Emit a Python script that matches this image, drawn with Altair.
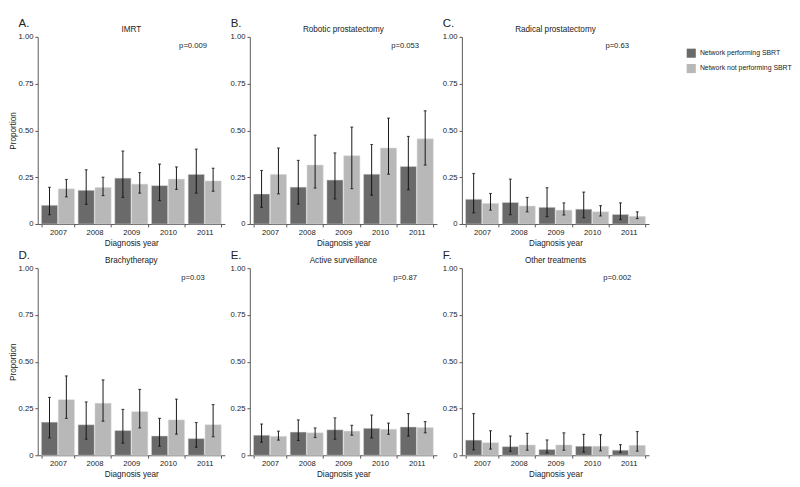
import altair as alt
import pandas as pd

years = ["2007", "2008", "2009", "2010", "2011"]
groups = ["Network performing SBRT", "Network not performing SBRT"]

panels = ["IMRT", "Robotic prostatectomy", "Radical prostatectomy",
          "Brachytherapy", "Active surveillance", "Other treatments"]
letters = ["A.", "B.", "C.", "D.", "E.", "F."]
p_values = ["p=0.009", "p=0.053", "p=0.63", "p=0.03", "p=0.87", "p=0.002"]

# IMRT
imrt_perf = [0.100, 0.180, 0.245, 0.205, 0.265]
imrt_perf_lo = [0.050, 0.105, 0.142, 0.125, 0.165]
imrt_perf_hi = [0.196, 0.290, 0.390, 0.320, 0.400]
imrt_not = [0.188, 0.195, 0.213, 0.240, 0.230]
imrt_not_lo = [0.145, 0.152, 0.165, 0.185, 0.175]
imrt_not_hi = [0.238, 0.250, 0.275, 0.305, 0.298]

# Robotic prostatectomy
rob_perf = [0.160, 0.197, 0.235, 0.266, 0.307]
rob_perf_lo = [0.089, 0.106, 0.134, 0.154, 0.183]
rob_perf_hi = [0.286, 0.340, 0.380, 0.425, 0.468]
rob_not = [0.265, 0.315, 0.365, 0.406, 0.455]
rob_not_lo = [0.161, 0.192, 0.189, 0.266, 0.315]
rob_not_hi = [0.406, 0.475, 0.518, 0.566, 0.605]

# Radical prostatectomy
rad_perf = [0.132, 0.115, 0.089, 0.079, 0.051]
rad_perf_lo = [0.060, 0.050, 0.039, 0.034, 0.024]
rad_perf_hi = [0.270, 0.240, 0.194, 0.170, 0.113]
rad_not = [0.110, 0.096, 0.074, 0.065, 0.041]
rad_not_lo = [0.074, 0.065, 0.048, 0.043, 0.029]
rad_not_hi = [0.163, 0.142, 0.113, 0.098, 0.065]

# Brachytherapy
bra_perf = [0.177, 0.163, 0.132, 0.103, 0.089]
bra_perf_lo = [0.093, 0.086, 0.065, 0.048, 0.043]
bra_perf_hi = [0.309, 0.285, 0.245, 0.197, 0.175]
bra_not = [0.297, 0.278, 0.233, 0.189, 0.163]
bra_not_lo = [0.197, 0.182, 0.146, 0.113, 0.099]
bra_not_hi = [0.424, 0.403, 0.352, 0.300, 0.271]

# Active surveillance
act_perf = [0.107, 0.124, 0.136, 0.144, 0.151]
act_perf_lo = [0.070, 0.079, 0.086, 0.093, 0.103]
act_perf_hi = [0.167, 0.189, 0.200, 0.215, 0.223]
act_not = [0.101, 0.120, 0.129, 0.139, 0.148]
act_not_lo = [0.081, 0.095, 0.107, 0.112, 0.120]
act_not_hi = [0.129, 0.146, 0.160, 0.172, 0.180]

# Other treatments
oth_perf = [0.081, 0.046, 0.031, 0.048, 0.027]
oth_perf_lo = [0.029, 0.021, 0.012, 0.017, 0.015]
oth_perf_hi = [0.223, 0.103, 0.082, 0.112, 0.057]
oth_not = [0.067, 0.055, 0.055, 0.048, 0.053]
oth_not_lo = [0.033, 0.027, 0.027, 0.024, 0.022]
oth_not_hi = [0.131, 0.117, 0.120, 0.110, 0.127]

series = [
    (imrt_perf, imrt_perf_lo, imrt_perf_hi, imrt_not, imrt_not_lo, imrt_not_hi),
    (rob_perf, rob_perf_lo, rob_perf_hi, rob_not, rob_not_lo, rob_not_hi),
    (rad_perf, rad_perf_lo, rad_perf_hi, rad_not, rad_not_lo, rad_not_hi),
    (bra_perf, bra_perf_lo, bra_perf_hi, bra_not, bra_not_lo, bra_not_hi),
    (act_perf, act_perf_lo, act_perf_hi, act_not, act_not_lo, act_not_hi),
    (oth_perf, oth_perf_lo, oth_perf_hi, oth_not, oth_not_lo, oth_not_hi),
]

W = 195
H = 195
DARK = "#6a6a6a"
LIGHT = "#b8b8b8"
FONT = "Liberation Sans"


def make_df(i):
    pm, pl, ph, nm, nl, nh = series[i]
    rows = []
    for k, y in enumerate(years):
        rows.append({"year": y, "group": groups[0], "value": pm[k], "lo": pl[k], "hi": ph[k]})
        rows.append({"year": y, "group": groups[1], "value": nm[k], "lo": nl[k], "hi": nh[k]})
    return pd.DataFrame(rows)


def panel(i):
    d = make_df(i)
    base = alt.Chart(d)
    x = alt.X("year:N", title="Diagnosis year", sort=years,
              scale=alt.Scale(paddingInner=0.1, paddingOuter=0.1),
              axis=alt.Axis(labelAngle=0, tickBand="extent", tickSize=3,
                            labelFontSize=8, titleFontSize=8.5, titleFontWeight="normal",
                            labelPadding=2, titlePadding=2,
                            domainColor="#555555", tickColor="#555555",
                            labelColor="#222222", titleColor="#222222"))
    xo = alt.XOffset("group:N", sort=groups, scale=alt.Scale(domain=groups, paddingInner=0.04))
    yax = alt.Axis(values=[0, 0.25, 0.5, 0.75, 1.0],
                   labelExpr="datum.value == 0 ? '0' : format(datum.value, '.2f')",
                   grid=False, tickSize=3, labelFontSize=8, titleFontSize=8.5,
                   titleFontWeight="normal", labelPadding=2, titlePadding=1,
                   domainColor="#555555", tickColor="#555555",
                   labelColor="#222222", titleColor="#222222")
    ytitle = "Proportion" if i % 3 == 0 else None
    y = alt.Y("value:Q", scale=alt.Scale(domain=[0, 1]), axis=yax, title=ytitle)
    color = alt.Color("group:N", sort=groups,
                      scale=alt.Scale(domain=groups, range=[DARK, LIGHT]),
                      legend=alt.Legend(title=None, symbolType="square", symbolSize=90,
                                        symbolStrokeWidth=0, labelFontSize=7.2,
                                        labelColor="#222222", rowPadding=6,
                                        orient="none", legendX=676, legendY=12))
    bars = base.mark_bar(stroke="#d9d9d9", strokeWidth=0.5).encode(x=x, xOffset=xo, y=y, color=color)
    err = base.mark_rule(color="#111111", strokeWidth=1).encode(
        x=x, xOffset=xo, y="lo:Q", y2="hi:Q")
    cap_lo = base.mark_tick(color="#111111", size=3, thickness=1.2).encode(
        x=x, xOffset=xo, y="lo:Q")
    cap_hi = base.mark_tick(color="#111111", size=3, thickness=1.2).encode(
        x=x, xOffset=xo, y="hi:Q")
    t = pd.DataFrame({"title": [panels[i]], "letter": [letters[i]], "p": [p_values[i]]})
    tb = alt.Chart(t)
    title = tb.mark_text(fontSize=8.5, color="#222222", baseline="middle").encode(
        text="title:N", x=alt.value(W / 2), y=alt.value(-8))
    letter = tb.mark_text(fontSize=12, color="#222222", align="left", baseline="middle").encode(
        text="letter:N", x=alt.value(-20), y=alt.value(-14))
    pv = tb.mark_text(fontSize=8, color="#222222", baseline="middle").encode(
        text="p:N", x=alt.value(W * 0.83), y=alt.value(10))
    return alt.layer(bars, err, cap_lo, cap_hi, title, letter, pv).properties(width=W, height=H)


row1 = alt.hconcat(panel(0), panel(1), panel(2), spacing=5)
row2 = alt.hconcat(panel(3), panel(4), panel(5), spacing=5)
chart = alt.vconcat(row1, row2, spacing=2).properties(padding=0).configure(
    font=FONT, view=alt.ViewConfig(stroke=None))

chart.save("out.html", embed_options={"renderer": "svg", "actions": False})
